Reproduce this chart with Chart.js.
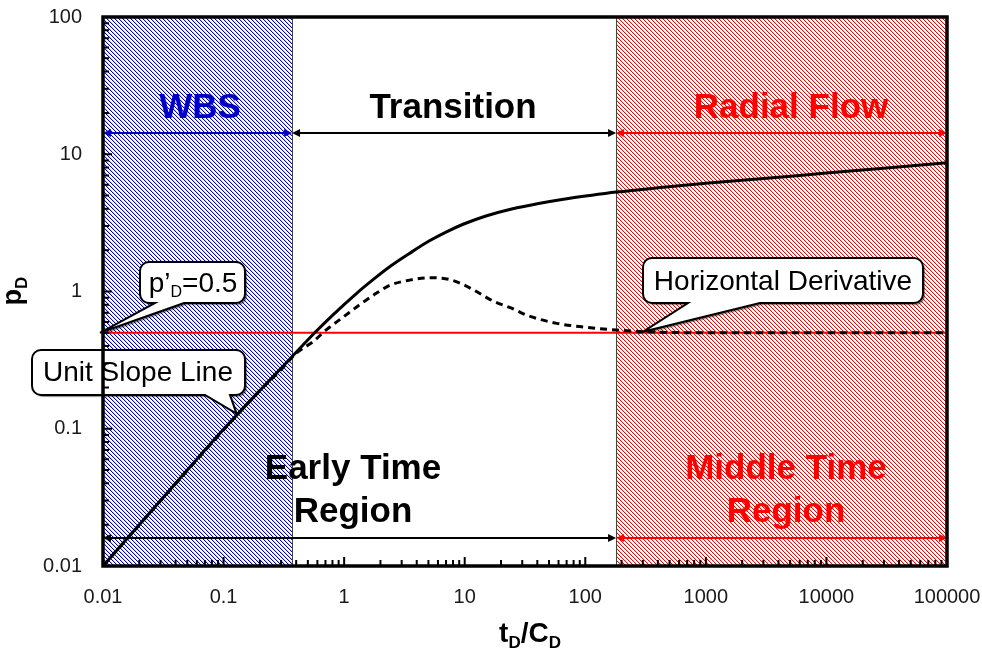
<!DOCTYPE html>
<html>
<head>
<meta charset="utf-8">
<script src="https://cdn.jsdelivr.net/npm/chart.js@4/dist/chart.umd.min.js"></script>
<style>
  html, body { margin: 0; padding: 0; background: #fff; }
  canvas { display: block; }
</style>
</head>
<body>
<canvas id="chart" width="982" height="658"></canvas>
<script>
// dimensionless pressure vs. dimensionless time
const tdcd = [0.01, 0.02, 0.05, 0.1, 0.2, 0.3, 0.37, 0.57, 0.8, 1.27, 1.8, 2.4, 3.5, 5.1, 7, 9.7, 15, 25, 40, 66, 110, 181, 400, 1000, 3200, 10000, 31600, 100000];
const pd = [0.01, 0.02, 0.05, 0.099, 0.19, 0.276, 0.335, 0.5, 0.67, 0.97, 1.25, 1.52, 1.9, 2.34, 2.71, 3.09, 3.55, 4.01, 4.36, 4.7, 5.01, 5.3, 5.7, 6.15, 6.68, 7.3, 7.95, 8.68];

// pressure derivative
const derivTime = [0.01, 0.1, 0.2, 0.3, 0.4, 0.55, 0.71, 0.98, 1.34, 1.75, 2.4, 3.5, 5.1, 6.5, 8.5, 12, 17.3, 25, 33, 58, 100, 181, 300, 1000, 10000, 100000];
const derivative = [0.01, 0.098, 0.19, 0.27, 0.355, 0.43, 0.525, 0.65, 0.8, 0.94, 1.11, 1.21, 1.26, 1.25, 1.18, 1.02, 0.85, 0.75, 0.67, 0.586, 0.55, 0.524, 0.51, 0.5, 0.5, 0.5];

const derivLevel = 0.5;          // p'D on radial flow
const wbsEnd = 0.37;             // end of wellbore storage
const radialStart = 180;         // start of radial flow
const arrowTopY = 14.3;
const arrowBottomY = 0.016;

const xTicks = [0.01, 0.1, 1, 10, 100, 1000, 10000, 100000];
const xTickLabels = ['0.01', '0.1', '1', '10', '100', '1000', '10000', '100000'];
const yTicks = [0.01, 0.1, 1, 10, 100];
const yTickLabels = ['0.01', '0.1', '1', '10', '100'];

const FONT = 'Arial, "Liberation Sans", sans-serif';
const BLUE = '#0000c8';
const RED = '#ff0000';

function hatch(ctx, color) {
  const c = document.createElement('canvas');
  c.width = 4; c.height = 4;
  const g = c.getContext('2d');
  g.fillStyle = color;
  for (let i = 0; i < 4; i++) g.fillRect(i, i, 1, 1);
  g.globalAlpha = 0.2;
  for (let i = 0; i < 4; i++) g.fillRect((i + 1) % 4, i, 1, 1);
  return ctx.createPattern(c, 'repeat');
}

function arrow(ctx, x1, x2, y, color) {
  ctx.save();
  ctx.strokeStyle = color;
  ctx.fillStyle = color;
  ctx.lineWidth = 2;
  ctx.beginPath();
  ctx.moveTo(x1 + 2, y);
  ctx.lineTo(x2 - 2, y);
  ctx.stroke();
  ctx.beginPath();
  ctx.moveTo(x1, y); ctx.lineTo(x1 + 8, y - 4); ctx.lineTo(x1 + 8, y + 4);
  ctx.closePath(); ctx.fill();
  ctx.beginPath();
  ctx.moveTo(x2, y); ctx.lineTo(x2 - 8, y - 4); ctx.lineTo(x2 - 8, y + 4);
  ctx.closePath(); ctx.fill();
  ctx.restore();
}

function callout(ctx, x, y, w, h, b1, b2, tx, ty) {
  const r = 9;
  ctx.save();
  ctx.beginPath();
  ctx.moveTo(x + r, y);
  ctx.lineTo(x + w - r, y);
  ctx.arcTo(x + w, y, x + w, y + r, r);
  ctx.lineTo(x + w, y + h - r);
  ctx.arcTo(x + w, y + h, x + w - r, y + h, r);
  ctx.lineTo(b2, y + h);
  ctx.lineTo(tx, ty);
  ctx.lineTo(b1, y + h);
  ctx.lineTo(x + r, y + h);
  ctx.arcTo(x, y + h, x, y + h - r, r);
  ctx.lineTo(x, y + r);
  ctx.arcTo(x, y, x + r, y, r);
  ctx.closePath();
  ctx.shadowColor = 'rgba(0,0,0,0.45)';
  ctx.shadowOffsetX = 2;
  ctx.shadowOffsetY = 2;
  ctx.shadowBlur = 1;
  ctx.fillStyle = '#fff';
  ctx.fill();
  ctx.shadowColor = 'transparent';
  ctx.strokeStyle = '#000';
  ctx.lineWidth = 2;
  ctx.stroke();
  ctx.restore();
}

// text run with subscripts: parts = [[text, font, dy], ...]
function richText(ctx, parts, cx, y) {
  let w = 0;
  parts.forEach(p => { ctx.font = p[1]; w += ctx.measureText(p[0]).width; });
  let x = cx - w / 2;
  ctx.textAlign = 'left';
  ctx.textBaseline = 'alphabetic';
  parts.forEach(p => {
    ctx.font = p[1];
    ctx.fillText(p[0], x, y + p[2]);
    x += ctx.measureText(p[0]).width;
  });
}

const regionsPlugin = {
  id: 'regions',
  beforeDatasetsDraw(chart) {
    const { ctx, chartArea: a, scales: { x } } = chart;
    const xw = x.getPixelForValue(wbsEnd);
    const xr = x.getPixelForValue(radialStart);
    ctx.save();
    ctx.fillStyle = hatch(ctx, BLUE);
    ctx.fillRect(a.left, a.top, xw - a.left, a.bottom - a.top);
    ctx.fillStyle = hatch(ctx, RED);
    ctx.fillRect(xr, a.top, a.right - xr, a.bottom - a.top);
    ctx.strokeStyle = '#444';
    ctx.lineWidth = 1;
    ctx.beginPath();
    ctx.moveTo(Math.round(xw) + 0.5, a.top); ctx.lineTo(Math.round(xw) + 0.5, a.bottom);
    ctx.moveTo(Math.round(xr) + 0.5, a.top); ctx.lineTo(Math.round(xr) + 0.5, a.bottom);
    ctx.stroke();
    ctx.restore();
  },
  afterDatasetsDraw(chart) {
    const { ctx, chartArea: a, scales: { x, y } } = chart;
    const xw = x.getPixelForValue(wbsEnd);
    const xr = x.getPixelForValue(radialStart);
    const yt = y.getPixelForValue(arrowTopY);
    const yb = y.getPixelForValue(arrowBottomY);

    arrow(ctx, a.left, xw, yt, BLUE);
    arrow(ctx, xw, xr, yt, '#000');
    arrow(ctx, xr, a.right, yt, RED);
    arrow(ctx, a.left, xr, yb, '#000');
    arrow(ctx, xr, a.right, yb, RED);

    ctx.save();
    ctx.textAlign = 'center';
    ctx.textBaseline = 'alphabetic';
    ctx.font = 'bold 35px ' + FONT;
    ctx.fillStyle = BLUE;
    ctx.fillText('WBS', 200, 118);
    ctx.fillStyle = '#000';
    ctx.fillText('Transition', 453, 118);
    ctx.fillText('Early Time', 353, 479);
    ctx.fillText('Region', 353, 522);
    ctx.fillStyle = RED;
    ctx.fillText('Radial Flow', 791, 118);
    ctx.fillText('Middle Time', 786, 479);
    ctx.fillText('Region', 786, 522);
    ctx.restore();

    // callouts
    const f = '28px ' + FONT;
    callout(ctx, 140, 262, 105, 41, 155, 184, x.getPixelForValue(0.01) - 3, y.getPixelForValue(derivLevel));
    callout(ctx, 32, 350, 213, 45, 205, 230, x.getPixelForValue(0.128), y.getPixelForValue(0.129));
    callout(ctx, 643, 258, 280, 45, 688, 760, x.getPixelForValue(300), y.getPixelForValue(derivLevel) - 1);
    ctx.save();
    ctx.fillStyle = '#000';
    richText(ctx, [['p\u2019', f, 0], ['D', '16px ' + FONT, 5], ['=0.5', f, 0]], 193, 292);
    richText(ctx, [['Unit Slope Line', f, 0]], 138, 381);
    richText(ctx, [['Horizontal Derivative', f, 0]], 783, 290);
    ctx.restore();

    // inward tick marks, left and bottom
    ctx.save();
    ctx.strokeStyle = '#000';
    ctx.lineWidth = 2;
    ctx.beginPath();
    for (let i = 0; i < xTicks.length; i++) {
      for (let m = 1; m <= 9; m++) {
        const v = xTicks[i] * m;
        if (v > x.max) break;
        const px = x.getPixelForValue(v);
        const len = m === 1 ? 9 : 6;
        ctx.moveTo(px, a.bottom); ctx.lineTo(px, a.bottom - len);
      }
    }
    for (let i = 0; i < yTicks.length; i++) {
      for (let m = 1; m <= 9; m++) {
        const v = yTicks[i] * m;
        if (v > y.max) break;
        const py = y.getPixelForValue(v);
        const len = m === 1 ? 9 : 6;
        ctx.moveTo(a.left, py); ctx.lineTo(a.left + len, py);
      }
    }
    ctx.stroke();
    // plot frame
    ctx.lineWidth = 3.5;
    ctx.strokeRect(a.left, a.top, a.right - a.left, a.bottom - a.top);
    ctx.restore();

    // axis titles
    ctx.save();
    ctx.fillStyle = '#000';
    richText(ctx, [['t', 'bold 28px ' + FONT, 0], ['D', 'bold 17px ' + FONT, 6], ['/C', 'bold 28px ' + FONT, 0], ['D', 'bold 17px ' + FONT, 6]], 530, 642);
    ctx.translate(21, 291);
    ctx.rotate(-Math.PI / 2);
    richText(ctx, [['p', 'bold 27px ' + FONT, 0], ['D', 'bold 17px ' + FONT, 6]], 0, 0);
    ctx.restore();
  }
};

// keep the plot box fixed: no extra room for overhanging tick labels
function noOverhang(s) {
  s.paddingTop = 0; s.paddingBottom = 0; s.paddingLeft = 0; s.paddingRight = 0;
}

const ctx = document.getElementById('chart').getContext('2d');
new Chart(ctx, {
  type: 'line',
  data: {
    datasets: [
      {
        label: 'pD',
        data: tdcd.map((t, i) => ({ x: t, y: pd[i] })),
        borderColor: '#000',
        borderWidth: 3,
        pointRadius: 0,
        cubicInterpolationMode: 'monotone',
        order: 0
      },
      {
        label: "p'D",
        data: derivTime.map((t, i) => ({ x: t, y: derivative[i] })),
        borderColor: '#000',
        borderWidth: 3,
        borderDash: [7, 5],
        pointRadius: 0,
        cubicInterpolationMode: 'monotone',
        order: 1
      },
      {
        label: "p'D=0.5",
        data: [{ x: xTicks[0], y: derivLevel }, { x: xTicks[xTicks.length - 1], y: derivLevel }],
        borderColor: RED,
        borderWidth: 2,
        pointRadius: 0,
        order: 2
      }
    ]
  },
  options: {
    responsive: false,
    animation: false,
    layout: { padding: { top: 17, right: 35, bottom: 0, left: 0 } },
    plugins: { legend: { display: false }, tooltip: { enabled: false } },
    scales: {
      x: {
        type: 'logarithmic',
        min: 0.01,
        max: 100000,
        afterBuildTicks: s => { s.ticks = xTicks.map(v => ({ value: v })); },
        afterFit: s => { s.height = 92; noOverhang(s); },
        grid: { display: false, drawTicks: false },
        border: { display: false },
        ticks: {
          callback: (v, i) => xTickLabels[i],
          autoSkip: false,
          maxRotation: 0,
          padding: 19,
          color: '#1a1a1a',
          font: { family: FONT, size: 20 }
        }
      },
      y: {
        type: 'logarithmic',
        min: 0.01,
        max: 100,
        afterBuildTicks: s => { s.ticks = yTicks.map(v => ({ value: v })); },
        afterFit: s => { s.width = 103; noOverhang(s); },
        grid: { display: false, drawTicks: false },
        border: { display: false },
        ticks: {
          callback: (v, i) => yTickLabels[i],
          autoSkip: false,
          padding: 21,
          color: '#1a1a1a',
          font: { family: FONT, size: 20 }
        }
      }
    }
  },
  plugins: [regionsPlugin]
});
</script>
</body>
</html>
